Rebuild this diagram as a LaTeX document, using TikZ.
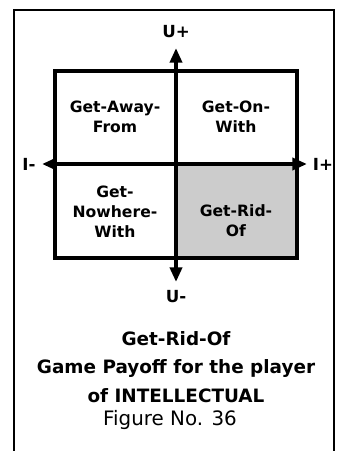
\documentclass[tikz,border=0pt]{standalone}
\usepackage{fontspec}
\setmainfont{DejaVu Sans}
\usetikzlibrary{arrows.meta, positioning}

\begin{document}
\begin{tikzpicture}[
  x=0.75pt, y=-0.75pt,
  quad/.style={
    font=\bfseries\fontsize{11.7}{15}\selectfont,
    align=center,
    inner sep=0pt
  },
  axislabel/.style={
    font=\bfseries\fontsize{12.5}{15}\selectfont,
    inner sep=0pt
  },
  caption/.style={
    font=\bfseries\fontsize{13.8}{21.4}\selectfont,
    align=center,
    inner sep=0pt
  },
  quadframe/.style={line width=3pt},
  axis/.style={{Triangle[length=11pt,width=9pt]}-{Triangle[length=11pt,width=9pt]}, line width=3pt}
]
\useasboundingbox (0,0) rectangle (339,451);

% open frame round the figure
\draw[line width=1.5pt] (14,451) -- (14,10) -- (334,10) -- (334,451);

% quadrants
\coordinate (nw) at (55,71);
\coordinate (se) at (297,258);
\coordinate (origin) at (176,164);
\fill[black!20] (origin) rectangle (se);
\draw[quadframe] (nw) rectangle (se);

% axis ends
\coordinate (utop) at (176,48);
\coordinate (ubot) at (176,282);
\coordinate (ileft) at (42,164);
\coordinate (iright) at (307,164);
\draw[axis] (ubot) -- (utop);
\draw[axis] (ileft) -- (iright);

\node[axislabel] (uplus) at (176,32) {U+};
\node[axislabel] (uminus) at (176,297) {U-};
\node[axislabel] (iminus) at (29,164) {I-};
\node[axislabel] (iplus) at (323,164) {I+};

\node[quad] (away) at (115,117) {Get-Away-\\From};
\node[quad] (onwith) at (236,117) {Get-On-\\With};
\node[quad] (nowhere) at (115,212) {Get-\\Nowhere-\\With};
\node[quad] (ridof) at (236,221) {Get-Rid-\\Of};

\node[caption] (title) at (176,367) {Get-Rid-Of\\Game Payoff for the player\\of INTELLECTUAL};
\node[font=\fontsize{14.9}{18}\selectfont, inner sep=0pt] (fignum) at (170,420) {Figure No. 36};

\end{tikzpicture}
\end{document}
